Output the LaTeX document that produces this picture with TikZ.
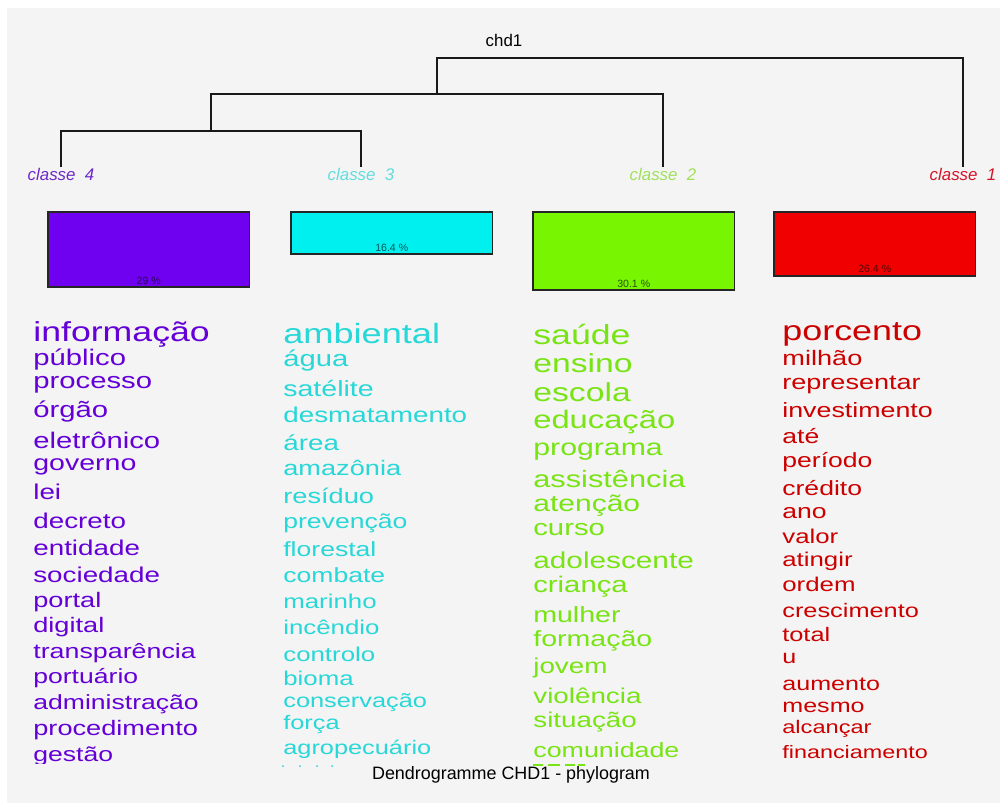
\documentclass[tikz,border=0pt]{standalone}
\usepackage{graphicx}
\usepackage{fontspec}
\setmainfont{Liberation Sans}
\usetikzlibrary{positioning}
\definecolor{bggray}{RGB}{244,244,244}
\definecolor{cl4box}{RGB}{112,0,240}
\definecolor{cl3box}{RGB}{0,240,240}
\definecolor{cl2box}{RGB}{120,245,0}
\definecolor{cl1box}{RGB}{240,0,0}
\definecolor{cl4txt}{RGB}{100,0,215}
\definecolor{cl3txt}{RGB}{40,215,215}
\definecolor{cl2txt}{RGB}{120,228,20}
\definecolor{cl1txt}{RGB}{205,0,0}
\definecolor{cl4lab}{RGB}{110,40,200}
\definecolor{cl3lab}{RGB}{100,220,220}
\definecolor{cl2lab}{RGB}{160,225,90}
\definecolor{cl1lab}{RGB}{210,20,40}
\newcommand{\wide}[1]{\scalebox{1.4}[1.08]{#1}}
\tikzset{treeline/.style={line width=0.85pt,black!90}}
\tikzset{classlabel/.style={font=\itshape\fontsize{9.6}{9.6}\selectfont,anchor=base,inner sep=1pt}}
\tikzset{classbox/.style={draw=black!85,line width=0.8pt,inner sep=0pt,outer sep=0pt,anchor=north west,minimum width=4.03cm}}
\tikzset{pctnode/.style={font=\fontsize{6}{6}\selectfont,text=black,text opacity=0.65,anchor=base,inner sep=0pt}}
\tikzset{wordnode/.style={anchor=base west,inner sep=0pt}}

\begin{document}
\begin{tikzpicture}[x=0.02cm,y=-0.02cm]
	\useasboundingbox (0,0) rectangle (1000,803);
	\fill[white] (0,0) rectangle (1000,803);
	\fill[bggray] (7,8) rectangle (1000,803);

	\node[font=\fontsize{9.6}{9.6}\selectfont,anchor=base] (chd) at (504,47) {chd1};

	\node[classlabel,text=cl4lab] (c4) at (61,181) {classe~~4};
	\node[classlabel,text=cl3lab] (c3) at (361,181) {classe~~3};
	\node[classlabel,text=cl2lab] (c2) at (663,181) {classe~~2};
	\node[classlabel,text=cl1lab] (c1) at (963,181) {classe~~1};

	\coordinate (j43) at (211,131);
	\coordinate (j432) at (437,94);
	\coordinate (top) at (700,58);
	\draw[treeline] (c4.north) |- (j43) -| (c3.north);
	\draw[treeline] (j43) |- (j432) -| (c2.north);
	\draw[treeline] (j432) |- (top) -| (c1.north); % root

	\node[classbox,fill=cl4box,minimum height=1.5cm] (box4) at (48,212) {};
	\node[classbox,fill=cl3box,minimum height=0.84cm] (box3) at (291,212) {};
	\node[classbox,fill=cl2box,minimum height=1.56cm] (box2) at (533,212) {};
	\node[classbox,fill=cl1box,minimum height=1.28cm] (box1) at (774,212) {};

	\node[pctnode] (p4) at ([yshift=1.2pt]box4.south) {29 \%};
	\node[pctnode] (p3) at ([yshift=1.2pt]box3.south) {16.4 \%};
	\node[pctnode] (p2) at ([yshift=1.2pt]box2.south) {30.1 \%};
	\node[pctnode] (p1) at ([yshift=1.9pt]box1.south) {26.4 \%};

	\begin{scope}
	\clip (0,300) rectangle (1000,763);
	\foreach \w/\wy/\ws [count=\i] in {informação/342/14.5, público/366/11.9, processo/389/11.9, órgão/418/11.9, eletrônico/448/11.9, governo/470/11.6, lei/499/11.3, decreto/528/11.3, entidade/555/11.3, sociedade/582/11.3, portal/607/11.05, digital/632/11.05, transparência/658/10.9, portuário/683/10.8, administração/709/10.8, procedimento/735/11.05, gestão/761/10.8}
		\node[wordnode,text=cl4txt,font=\fontsize{\ws}{\ws}\selectfont] (w4-\i) at (33,\wy) {\wide{\w}};
	\foreach \w/\wy/\ws [count=\i] in {ambiental/344/14.7, água/367/11.9, satélite/397/11.6, desmatamento/422/11.3, área/450/11.3, amazônia/476/11.05, resíduo/503/11.05, prevenção/528/10.8, florestal/556/10.8, combate/582/10.8, marinho/608/10.5, incêndio/634/10.5, controlo/661/10.5, bioma/685/10.5, conservação/707/10.3, força/729/10.3, agropecuário/754/10.3}
		\node[wordnode,text=cl3txt,font=\fontsize{\ws}{\ws}\selectfont] (w3-\i) at (283,\wy) {\wide{\w}};
	\foreach \w/\wy/\ws [count=\i] in {saúde/345/14.5, ensino/373/13.7, escola/402/13.7, educação/429/13.3, programa/456/12.3, assistência/487/12.5, atenção/511/12.2, curso/535/11.9, adolescente/568/12.1, criança/592/11.9, mulher/622/11.6, formação/646/11.6, jovem/673/11.3, violência/703/11.3, situação/727/11.3, comunidade/757/10.9}
		\node[wordnode,text=cl2txt,font=\fontsize{\ws}{\ws}\selectfont] (w2-\i) at (533,\wy) {\wide{\w}};
	\foreach \w/\wy/\ws [count=\i] in {porcento/341/14.6, milhão/366/11.05, representar/390/11, investimento/418/10.9, até/443/10.8, período/467/10.8, crédito/495/10.8, ano/518/10.8, valor/543/10.5, atingir/566/10.5, ordem/591/10.5, crescimento/617/10.3, total/641/10.3, u/663/10.2, aumento/690/10.2, mesmo/712/10.2, alcançar/733/9.6, financiamento/758/9.5}
		\node[wordnode,text=cl1txt,font=\fontsize{\ws}{\ws}\selectfont] (w1-\i) at (782,\wy) {\wide{\w}};
	\end{scope}

	% cut-off words below the last lines
	\foreach \x in {283,300,317,332}
		\fill[cl3txt] (\x,766) circle (1);
	\foreach \x/\xx in {533/543,548/560,565/575,578/585}
		\draw[cl2txt,line width=0.8pt] (\x,765) -- (\xx,765);

	\node[font=\fontsize{10.2}{10.2}\selectfont,anchor=base] (title) at (511,779) {Dendrogramme CHD1 - phylogram};
\end{tikzpicture}
\end{document}
